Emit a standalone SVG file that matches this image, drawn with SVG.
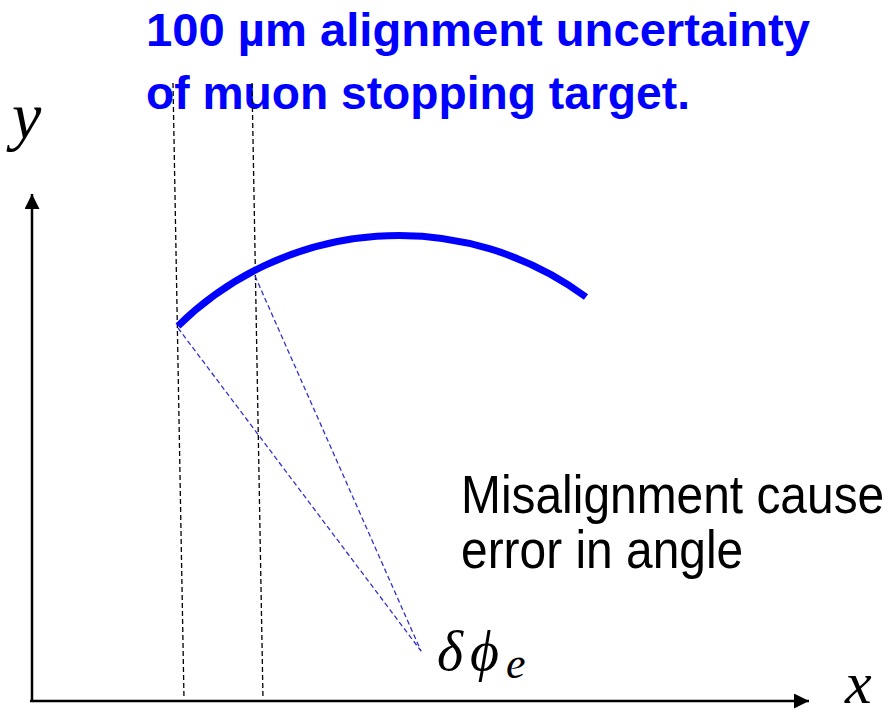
<svg xmlns="http://www.w3.org/2000/svg" width="893" height="717" viewBox="0 0 893 717">
<defs>
<style>
.title{font-family:"Liberation Sans",Arial,sans-serif;font-weight:bold;fill:#0000ff;font-size:46px}
.note{font-family:"Liberation Sans",Arial,sans-serif;fill:#000;font-size:54px}
.math{font-family:"Liberation Serif","DejaVu Serif",serif;font-style:italic;fill:#000}
.axis{stroke:#000;stroke-width:2.5;fill:none}
.guide{stroke:#000;stroke-width:1.3;stroke-dasharray:5 3;fill:none}
.ray{stroke:#3333cc;stroke-width:1.3;stroke-dasharray:5 3;fill:none}
.track{stroke:#0000ff;stroke-width:7;fill:none}
</style>
<marker id="arr" viewBox="0 0 10 10" refX="10" refY="5" markerWidth="6" markerHeight="6" markerUnits="strokeWidth" orient="auto">
<path d="M0,0 L10,5 L0,10 z" fill="#000"/>
</marker>
</defs>
<rect width="893" height="717" fill="#fff"/>
<g id="title">
<text class="title" x="146" y="46" textLength="664" lengthAdjust="spacingAndGlyphs">100 µm alignment uncertainty</text>
<text class="title" x="146" y="109" textLength="544" lengthAdjust="spacingAndGlyphs">of muon stopping target.</text>
</g>
<g id="connectors">
<line class="axis" x1="32" y1="702" x2="32" y2="194" marker-end="url(#arr)"/>
<line class="axis" x1="30" y1="701" x2="809" y2="701" marker-end="url(#arr)"/>
<line class="guide" x1="173" y1="83" x2="184" y2="699"/>
<line class="guide" x1="252" y1="83" x2="263" y2="699"/>
<line class="ray" x1="178" y1="328" x2="421" y2="651"/>
<line class="ray" x1="255" y1="276" x2="421" y2="651"/>
</g>
<g id="track">
<path class="track" d="M178,326 A315,315 0 0 1 586,297"/>
</g>
<g id="labels">
<text class="math" x="12" y="138" font-size="66">y</text>
<text class="math" x="845" y="703" font-size="60">x</text>
<text class="math" font-size="56" y="670"><tspan x="437">δ</tspan><tspan x="470">ϕ</tspan><tspan x="506" dy="8" font-size="44">e</tspan></text>
</g>
<g id="note" transform="translate(461,0) scale(0.887,1)">
<text class="note" x="0" y="513">Misalignment cause</text>
<text class="note" x="0" y="568">error in angle</text>
</g>
</svg>
